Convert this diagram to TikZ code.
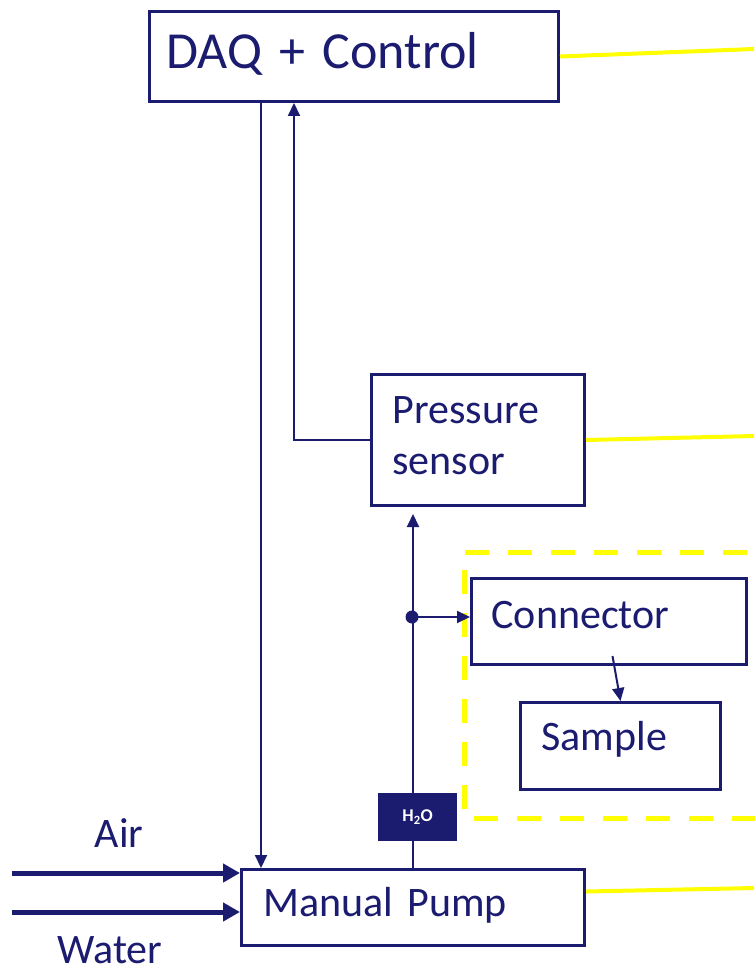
\documentclass[tikz,border=0pt]{standalone}
\usepackage{fontspec}
\setmainfont{Carlito}[WordSpace=0.85]
\usetikzlibrary{arrows.meta,calc}
\definecolor{navy}{RGB}{27,27,112}
\definecolor{yel}{RGB}{255,255,0}
\newcommand{\dep}[1]{\rule[-#1]{0pt}{0pt}}
\begin{document}
\begin{tikzpicture}[x=1pt,y=-1pt,
  box/.style={draw=navy,line width=3pt,anchor=north west,inner ysep=0pt,align=left,
    text=navy,fill=white,font=\fontsize{42}{51}\selectfont},
  conn/.style={draw=navy,line width=2pt,-{Triangle[length=13pt,width=12pt]}},
  feed/.style={draw=navy,line width=5pt,-{Triangle[length=17pt,width=18pt]}},
  yline/.style={draw=yel,line width=4pt},
  lbl/.style={text=navy,font=\fontsize{42}{51}\selectfont}]
\useasboundingbox (0,0) rectangle (754,973);

% dashed group frame
\draw[yel,line width=5pt,dash pattern=on 24pt off 19pt] (790,552) -- (464,552) -- (464,818) -- (790,818);

% boxes
\node[box,minimum width=409pt,minimum height=90pt,inner xsep=17pt,text width=375pt,
  font=\fontsize{52}{60}\selectfont] (daq) at (148,10) {DAQ + Control\dep{12pt}};
\node[box,minimum width=213pt,minimum height=131pt,inner xsep=21pt,text width=171pt] (ps) at (370,373) {Pressure\\sensor\dep{8pt}};
\node[box,minimum width=275pt,minimum height=86pt,inner xsep=20pt,text width=235pt] (con) at (470,577) {Connector\dep{13pt}};
\node[box,minimum width=200pt,minimum height=87pt,inner xsep=21pt,text width=158pt] (smp) at (519,701) {Sample\dep{20pt}};
\node[box,minimum width=343pt,minimum height=76pt,inner xsep=22pt,text width=299pt] (pump) at (240,868) {Manual Pump\dep{12pt}};

% helper coordinates
\coordinate (xa) at (261,500);
\coordinate (xb) at (294,500);
\coordinate (y1) at (754,49);
\coordinate (y2) at (754,436);
\coordinate (y3) at (754,888);
\coordinate (airS) at (12,873);
\coordinate (watS) at (12,912);

% connectors
\draw[conn] (daq.south -| xa) -- (pump.north -| xa);
\draw[conn] (ps.west) -| (xb |- daq.south);
\draw[conn,shorten >=7pt] (pump.north) -- (pump.north |- ps.south);
\node[circle,fill=navy,inner sep=0pt,minimum size=13pt] (dot) at (412,617) {};
\draw[conn] (dot.center) -- (dot -| con.west);
\draw[conn] ($(con.south)+(3.5,-10)$) -- (smp.north);

% H2O tag
\node[fill=navy,anchor=north west,minimum width=79pt,minimum height=48pt,inner sep=0pt,
  text=white,font=\bfseries\fontsize{18}{20}\selectfont] (h2o) at (378,793) {H\textsubscript{2}O};

% feeds
\draw[feed] (airS) -- (airS -| pump.west);
\draw[feed] (watS) -- (watS -| pump.west);
\node[lbl,anchor=base] (air) at (119,847) {Air};
\node[lbl,anchor=base] (water) at (110,963) {Water};

% yellow links
\draw[yline] (daq.east) -- (y1);
\draw[yline] (ps.east) -- (y2);
\draw[yline] ([yshift=16pt]pump.east) -- (y3);
\end{tikzpicture}
\end{document}
